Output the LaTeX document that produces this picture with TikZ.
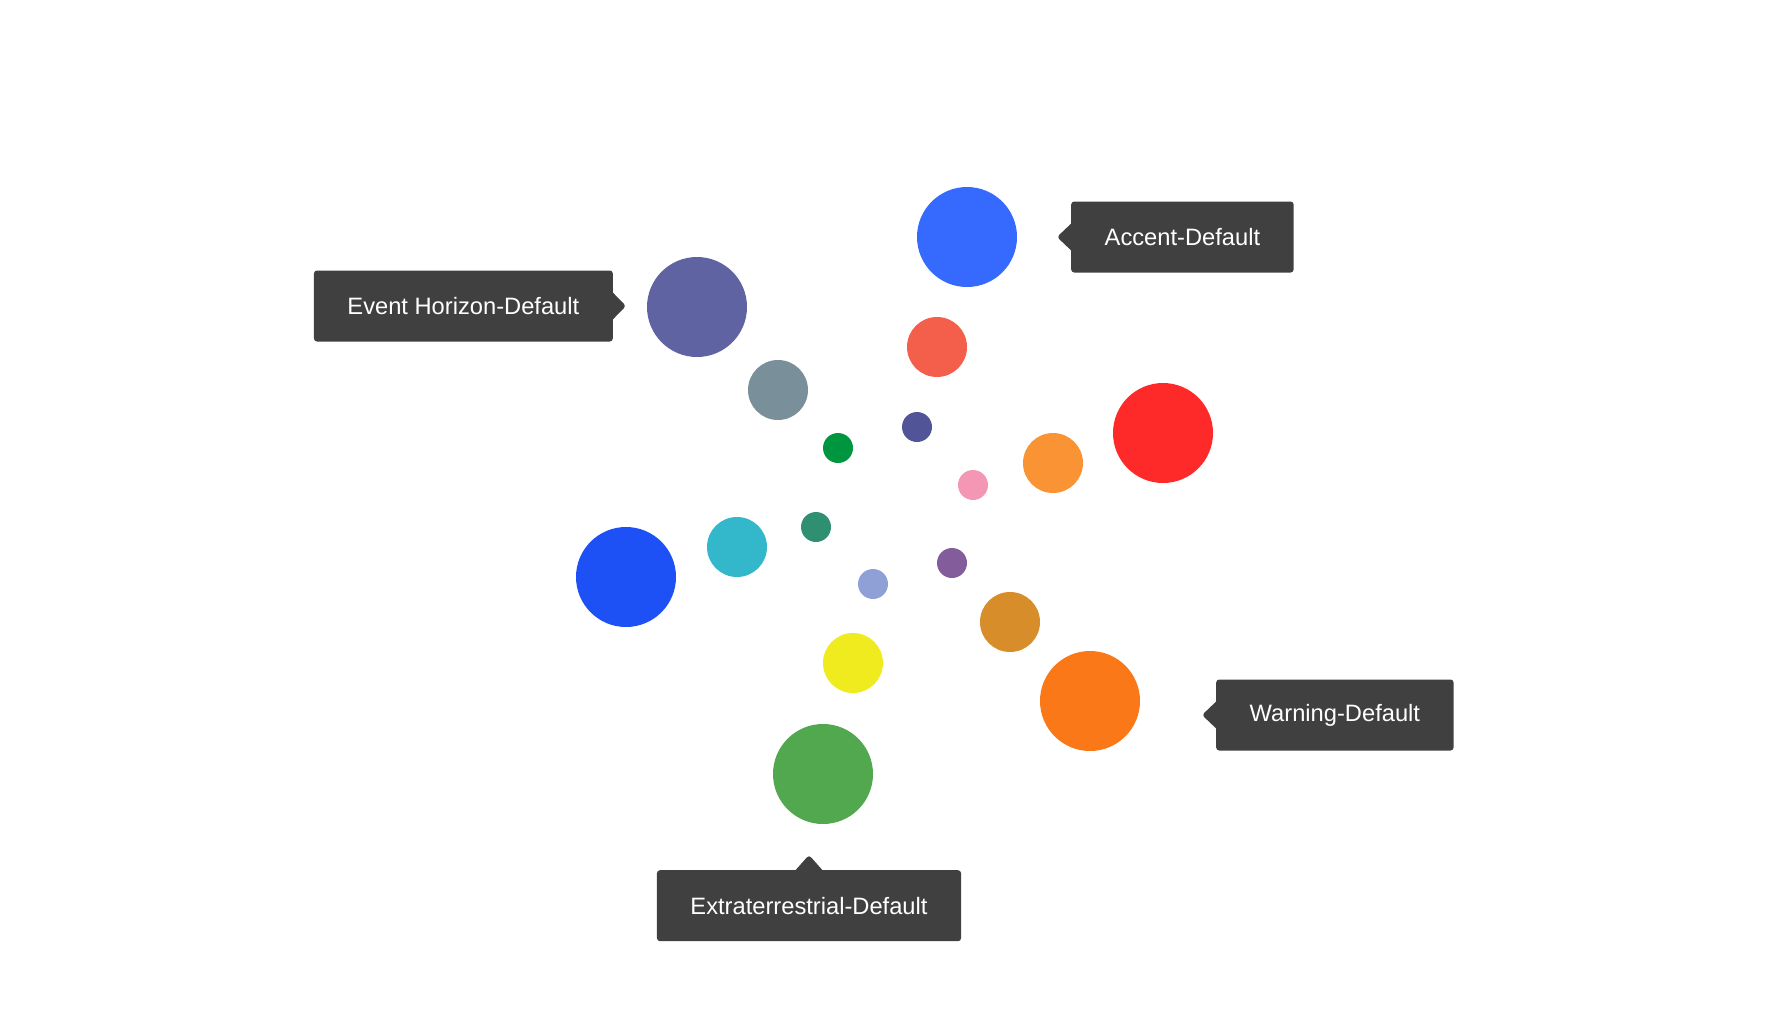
\documentclass[tikz,border=0pt]{standalone}
\usepackage{fontspec}
\setmainfont{Liberation Sans}
\definecolor{tagbg}{HTML}{404040}
\definecolor{accent}{HTML}{3669FE}
\definecolor{horizon}{HTML}{5F63A2}
\definecolor{tomato}{HTML}{F35F4A}
\definecolor{slate}{HTML}{798F99}
\definecolor{indigo}{HTML}{515597}
\definecolor{leaf}{HTML}{009640}
\definecolor{alarm}{HTML}{FE2A2A}
\definecolor{tangerine}{HTML}{F99334}
\definecolor{blush}{HTML}{F497B5}
\definecolor{pine}{HTML}{2E9070}
\definecolor{aqua}{HTML}{32B8CA}
\definecolor{royal}{HTML}{1D51F5}
\definecolor{plum}{HTML}{835C9B}
\definecolor{periwinkle}{HTML}{8FA0D6}
\definecolor{ochre}{HTML}{D68D2A}
\definecolor{lemon}{HTML}{F0EB1F}
\definecolor{warning}{HTML}{FB7819}
\definecolor{alien}{HTML}{52A84E}
\usepackage{tikz}
\usetikzlibrary{shapes.callouts}

\begin{document}
\begin{tikzpicture}[x=1pt,y=-1pt,
    big/.style={circle,inner sep=0pt,minimum size=100pt},
    mid/.style={circle,inner sep=0pt,minimum size=60pt},
    sml/.style={circle,inner sep=0pt,minimum size=30pt},
    tag/.style={rectangle callout,fill=tagbg,text=white,rounded corners=3pt,
      minimum height=71pt,inner xsep=33.5pt,callout pointer width=27pt,
      font=\fontsize{23.7}{28}\selectfont},
  ]
    \useasboundingbox (0,0) rectangle (1792,1012);

    % outer ring
    \node[big,fill=accent] (acc) at (967,237) {};
    \node[big,fill=horizon] (evh) at (697,307) {};
    \node[big,fill=alarm] (red) at (1163,433) {};
    \node[big,fill=royal] (blu) at (626,577) {};
    \node[big,fill=warning] (wrn) at (1090,701) {};
    \node[big,fill=alien] (ext) at (823,774) {};

    % middle ring
    \node[mid,fill=tomato] (tom) at (937,347) {};
    \node[mid,fill=slate] (sla) at (778,390) {};
    \node[mid,fill=tangerine] (tan) at (1053,463) {};
    \node[mid,fill=aqua] (aqu) at (737,547) {};
    \node[mid,fill=ochre] (och) at (1010,622) {};
    \node[mid,fill=lemon] (lem) at (853,663) {};

    % inner ring
    \node[sml,fill=indigo] (ind) at (917,427) {};
    \node[sml,fill=leaf] (lea) at (838,448) {};
    \node[sml,fill=blush] (blh) at (973,485) {};
    \node[sml,fill=pine] (pin) at (816,527) {};
    \node[sml,fill=plum] (plm) at (952,563) {};
    \node[sml,fill=periwinkle] (per) at (873,584) {};

    % tags
    \node[tag,anchor=west,callout absolute pointer={(1057,237)}] (acctag)
      at (1071,237) {Accent-Default};
    \node[tag,anchor=east,callout absolute pointer={(626,306)}] (evhtag)
      at (613,306) {Event Horizon-Default};
    \node[tag,anchor=west,callout absolute pointer={(1202,715)}] (wrntag)
      at (1216,715) {Warning-Default};
    \node[tag,anchor=north,callout absolute pointer={(809,855)}] (exttag)
      at (809,870) {Extraterrestrial-Default};
  \end{tikzpicture}
\end{document}
